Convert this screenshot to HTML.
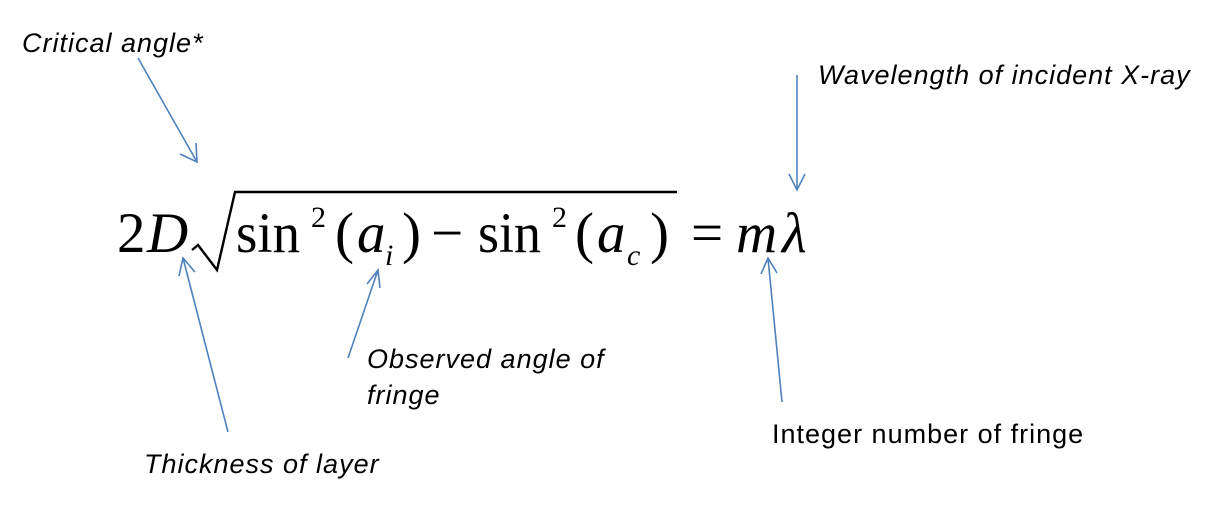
<!DOCTYPE html>
<html><head><style>
body{margin:0;width:1212px;height:506px;background:#fff;overflow:hidden}
.l{font-family:"Liberation Sans",sans-serif;font-size:27px;letter-spacing:1px;fill:#000}
.i{font-style:italic}
.m{font-family:"Liberation Serif",serif;font-size:57px;fill:#000}
.s{font-family:"Liberation Serif",serif;font-size:30px;fill:#000}
.it{font-style:italic}
</style></head><body>
<svg width="1212" height="506" style="position:absolute;left:0;top:0">
<text class="l i" x="22" y="52">Critical angle*</text>
<text class="l i" x="818" y="84">Wavelength of incident X-ray</text>
<text class="l i" x="367" y="368">Observed angle of</text>
<text class="l i" x="367" y="404">fringe</text>
<text class="l" x="772" y="443">Integer number of fringe</text>
<text class="l i" x="144" y="473">Thickness of layer</text>

<text class="m" x="117" y="252">2</text>
<text class="m it" x="147" y="252">D</text>
<text class="m" x="236" y="252" textLength="64" lengthAdjust="spacingAndGlyphs">sin</text>
<text class="s" x="311" y="227">2</text>
<text class="m" x="335" y="252">(</text>
<text class="m it" x="357" y="252">a</text>
<text class="s it" x="385" y="265">i</text>
<text class="m" x="402" y="252">)</text>
<text class="m" x="431" y="252">−</text>
<text class="m" x="478" y="252" textLength="63" lengthAdjust="spacingAndGlyphs">sin</text>
<text class="s" x="552" y="227">2</text>
<text class="m" x="575" y="252">(</text>
<text class="m it" x="597" y="252">a</text>
<text class="s it" x="627" y="265">c</text>
<text class="m" x="650" y="252">)</text>
<text class="m" x="691" y="252">=</text>
<text class="m it" x="736" y="252">m</text>
<text class="m it" x="782" y="252">λ</text>

<polyline points="192,250 198,245 217,270 235,192 677,192" fill="none" stroke="#000" stroke-width="2.4"/>
<g stroke="#4f81bd" stroke-width="1.6" fill="none">
<line x1="138" y1="58" x2="197" y2="162"/><polyline points="180,154 197,162 196,143"/>
<line x1="797" y1="75" x2="797" y2="190"/><polyline points="789,174 797,190 805,174"/>
<line x1="228" y1="432" x2="183" y2="258"/><polyline points="179,276 183,258 195,272"/>
<line x1="348" y1="358" x2="378" y2="270"/><polyline points="367,284 378,270 380,288"/>
<line x1="782" y1="402" x2="768" y2="258"/><polyline points="761,274 768,258 777,273"/>
</g></svg>
</body></html>
